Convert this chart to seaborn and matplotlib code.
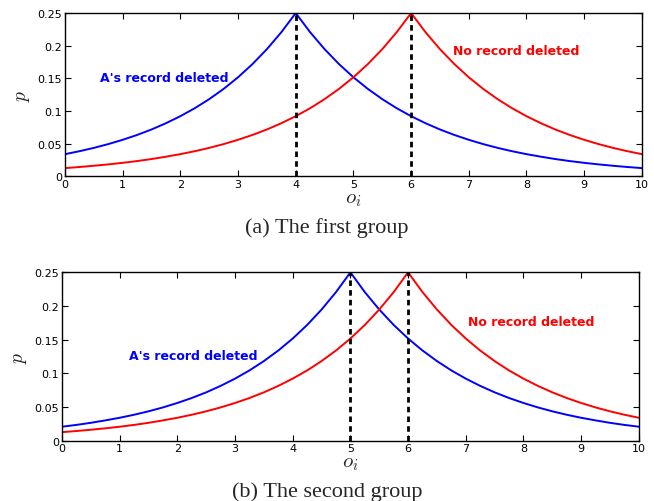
import numpy as np
import pandas as pd
import matplotlib
matplotlib.use("Agg")
import matplotlib.pyplot as plt
import seaborn as sns
from matplotlib.ticker import FormatStrFormatter

# o_i values, 0 to 10 in steps of 0.25
o_vals = [0, 0.25, 0.5, 0.75, 1, 1.25, 1.5, 1.75, 2, 2.25, 2.5, 2.75, 3, 3.25, 3.5, 3.75,
          4, 4.25, 4.5, 4.75, 5, 5.25, 5.5, 5.75, 6, 6.25, 6.5, 6.75, 7, 7.25, 7.5, 7.75,
          8, 8.25, 8.5, 8.75, 9, 9.25, 9.5, 9.75, 10]

# first group (peaks at 4 and 6)
deleted_a = [0.0338, 0.0383, 0.0434, 0.0492, 0.0558, 0.0632, 0.0716, 0.0812, 0.0920, 0.1042,
             0.1181, 0.1338, 0.1516, 0.1718, 0.1947, 0.2206, 0.25, 0.2206, 0.1947, 0.1718,
             0.1516, 0.1338, 0.1181, 0.1042, 0.0920, 0.0812, 0.0716, 0.0632, 0.0558, 0.0492,
             0.0434, 0.0383, 0.0338, 0.0299, 0.0263, 0.0232, 0.0205, 0.0181, 0.0160, 0.0141,
             0.0124]
nodel_a = [0.0124, 0.0141, 0.0160, 0.0181, 0.0205, 0.0232, 0.0263, 0.0299, 0.0338, 0.0383,
           0.0434, 0.0492, 0.0558, 0.0632, 0.0716, 0.0812, 0.0920, 0.1042, 0.1181, 0.1338,
           0.1516, 0.1718, 0.1947, 0.2206, 0.25, 0.2206, 0.1947, 0.1718, 0.1516, 0.1338,
           0.1181, 0.1042, 0.0920, 0.0812, 0.0716, 0.0632, 0.0558, 0.0492, 0.0434, 0.0383,
           0.0338]
peaks_a = [4, 6]

# second group (peaks at 5 and 6)
deleted_b = [0.0205, 0.0232, 0.0263, 0.0299, 0.0338, 0.0383, 0.0434, 0.0492, 0.0558, 0.0632,
             0.0716, 0.0812, 0.0920, 0.1042, 0.1181, 0.1338, 0.1516, 0.1718, 0.1947, 0.2206,
             0.25, 0.2206, 0.1947, 0.1718, 0.1516, 0.1338, 0.1181, 0.1042, 0.0920, 0.0812,
             0.0716, 0.0632, 0.0558, 0.0492, 0.0434, 0.0383, 0.0338, 0.0299, 0.0263, 0.0232,
             0.0205]
nodel_b = [0.0124, 0.0141, 0.0160, 0.0181, 0.0205, 0.0232, 0.0263, 0.0299, 0.0338, 0.0383,
           0.0434, 0.0492, 0.0558, 0.0632, 0.0716, 0.0812, 0.0920, 0.1042, 0.1181, 0.1338,
           0.1516, 0.1718, 0.1947, 0.2206, 0.25, 0.2206, 0.1947, 0.1718, 0.1516, 0.1338,
           0.1181, 0.1042, 0.0920, 0.0812, 0.0716, 0.0632, 0.0558, 0.0492, 0.0434, 0.0383,
           0.0338]
peaks_b = [5, 6]

yticks = [0, 0.05, 0.1, 0.15, 0.2, 0.25]
xticks = list(range(11))

sns.set_style("ticks", {"xtick.direction": "in", "ytick.direction": "in"})
plt.rcParams["font.family"] = ["DejaVu Sans"]
plt.rcParams["mathtext.fontset"] = "cm"

fig = plt.figure(figsize=(6.54, 5.02), dpi=100)
ax1 = fig.add_axes([0.0994, 0.647, 0.882, 0.325])
ax2 = fig.add_axes([0.0948, 0.1205, 0.882, 0.335])


def draw(ax, blue, red, peaks, lbl_blue, lbl_red):
    df = pd.DataFrame({"o": o_vals, "blue": blue, "red": red})
    sns.lineplot(data=df, x="o", y="blue", color="#0000ff", lw=1.4, ax=ax)
    sns.lineplot(data=df, x="o", y="red", color="#ff0000", lw=1.4, ax=ax)
    for pk in peaks:
        ax.plot([pk, pk], [0, 0.25], color="black", ls=(0, (2, 1.5)), lw=2)
    ax.set_xlim(0, 10)
    ax.set_ylim(0, 0.25)
    ax.set_xticks(xticks)
    ax.set_yticks(yticks)
    ax.yaxis.set_major_formatter(FormatStrFormatter("%g"))
    ax.tick_params(top=True, right=True, direction="in", labelsize=8,
                   length=4, width=0.8, pad=2, colors="black")
    for s in ax.spines.values():
        s.set_color("black")
        s.set_linewidth(1)
    ax.set_xlabel(r"$o_i$", fontsize=15, labelpad=-1)
    ax.set_ylabel(r"$p$", fontsize=14, labelpad=4)
    ax.text(*lbl_blue, "A's record deleted", color="#0000ff", fontsize=9,
            fontweight="bold", va="center")
    ax.text(*lbl_red, "No record deleted", color="#ff0000", fontsize=9,
            fontweight="bold", va="center")


draw(ax1, deleted_a, nodel_a, peaks_a, (0.61, 0.152), (6.72, 0.193))
draw(ax2, deleted_b, nodel_b, peaks_b, (1.16, 0.127), (7.03, 0.177))

fig.text(0.5, 1 - 228 / 502, "(a) The first group", ha="center", va="center",
         fontsize=16, family="Liberation Serif")
fig.text(0.5, 1 - 492 / 502, "(b) The second group", ha="center", va="center",
         fontsize=16, family="Liberation Serif")

fig.savefig("out.png", dpi=100)
